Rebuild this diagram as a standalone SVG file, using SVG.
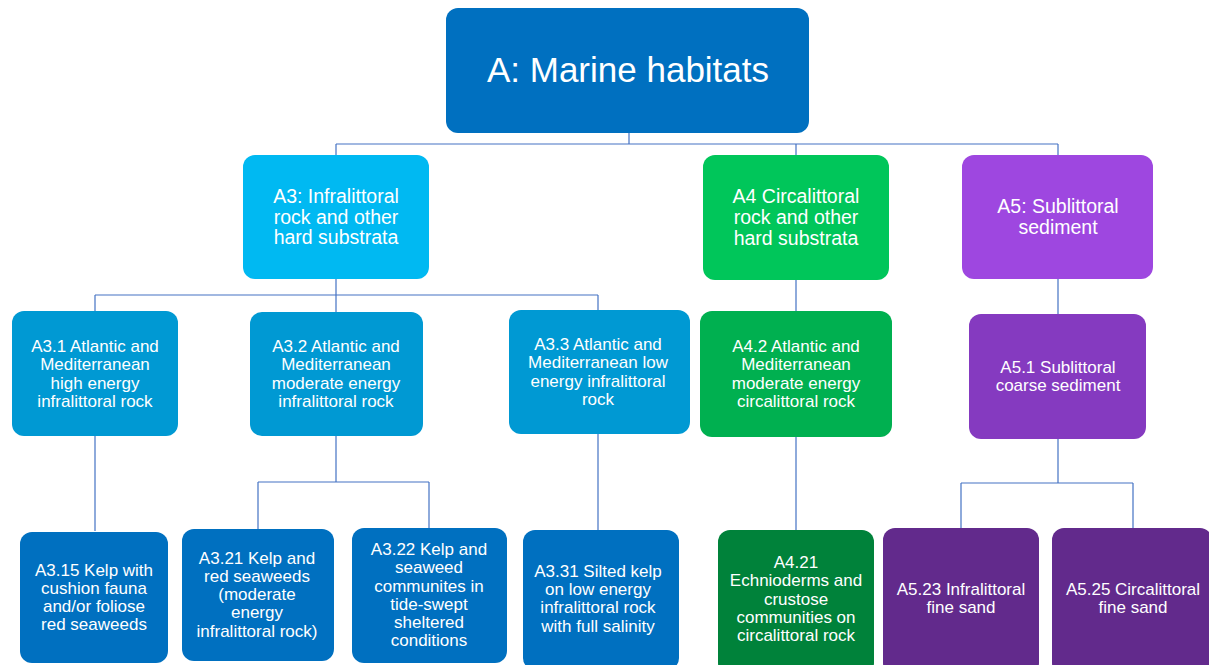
<svg xmlns="http://www.w3.org/2000/svg" width="1209" height="665" viewBox="0 0 1209 665">
<style>
text{font-family:"Liberation Sans",Arial,sans-serif;fill:#fff;text-anchor:middle}
.t1{font-size:19.5px}
.t2{font-size:17px}
.c{fill:none;stroke:#4472C4;stroke-width:1.2}
</style>
<rect width="1209" height="665" fill="#fff"/>
<g id="connectors">
<path class="c" d="M629 133V144M336 144H1058M336 144V155M796 144V155M1058 144V155"/>
<path class="c" d="M336 279V295M95 295H598M95 295V311M336 295V312M598 295V310"/>
<path class="c" d="M95 436V531M336 436V482M258 482H429M258 482V529M429 482V528M598 434V530"/>
<path class="c" d="M796 280V311M796 437V530M1058 279V314M1058 439V483M961 483H1133M961 483V528M1133 483V528"/>
</g>
<g id="A"><rect x="446" y="8" width="363" height="125" rx="12" fill="#0070C0"/><text x="628" y="82" style="font-size:35px">A: Marine habitats</text></g>
<g id="A3"><rect x="243" y="155" width="186" height="124" rx="12" fill="#00B9F2"/><text class="t1" x="336"><tspan x="336" y="203">A3: Infralittoral</tspan><tspan x="336" y="223.5">rock and other</tspan><tspan x="336" y="244">hard substrata</tspan></text></g>
<g id="A4"><rect x="703" y="155" width="186" height="125" rx="12" fill="#00C65A"/><text class="t1" x="796"><tspan x="796" y="203">A4 Circalittoral</tspan><tspan x="796" y="224">rock and other</tspan><tspan x="796" y="245">hard substrata</tspan></text></g>
<g id="A5"><rect x="962" y="155" width="191" height="124" rx="12" fill="#9E47E0"/><text class="t1" x="1058"><tspan x="1058" y="213">A5: Sublittoral</tspan><tspan x="1058" y="234">sediment</tspan></text></g>
<g id="A3.1"><rect x="12" y="311" width="166" height="125" rx="12" fill="#0099D3"/><text class="t2"><tspan x="95" y="352">A3.1 Atlantic and</tspan><tspan x="95" y="370">Mediterranean</tspan><tspan x="95" y="389">high energy</tspan><tspan x="95" y="407">infralittoral rock</tspan></text></g>
<g id="A3.2"><rect x="250" y="312" width="173" height="124" rx="12" fill="#0099D3"/><text class="t2"><tspan x="336" y="352">A3.2 Atlantic and</tspan><tspan x="336" y="370">Mediterranean</tspan><tspan x="336" y="389">moderate energy</tspan><tspan x="336" y="407">infralittoral rock</tspan></text></g>
<g id="A3.3"><rect x="509" y="310" width="181" height="124" rx="12" fill="#0099D3"/><text class="t2"><tspan x="598" y="350">A3.3 Atlantic and</tspan><tspan x="598" y="368">Mediterranean low</tspan><tspan x="598" y="387">energy infralittoral</tspan><tspan x="598" y="405">rock</tspan></text></g>
<g id="A4.2"><rect x="700" y="311" width="192" height="126" rx="12" fill="#00B050"/><text class="t2"><tspan x="796" y="352">A4.2 Atlantic and</tspan><tspan x="796" y="370">Mediterranean</tspan><tspan x="796" y="389">moderate energy</tspan><tspan x="796" y="407">circalittoral rock</tspan></text></g>
<g id="A5.1"><rect x="969" y="314" width="177" height="125" rx="12" fill="#853AC0"/><text class="t2"><tspan x="1058" y="373">A5.1 Sublittoral</tspan><tspan x="1058" y="391">coarse sediment</tspan></text></g>
<g id="A3.15"><rect x="20" y="532" width="148" height="131" rx="12" fill="#0070C0"/><text class="t2"><tspan x="94" y="576">A3.15 Kelp with</tspan><tspan x="94" y="594">cushion fauna</tspan><tspan x="94" y="612">and/or foliose</tspan><tspan x="94" y="630">red seaweeds</tspan></text></g>
<g id="A3.21"><rect x="182" y="529" width="152" height="132" rx="12" fill="#0070C0"/><text class="t2"><tspan x="257" y="564">A3.21 Kelp and</tspan><tspan x="257" y="582">red seaweeds</tspan><tspan x="257" y="600">(moderate</tspan><tspan x="257" y="618">energy</tspan><tspan x="257" y="637">infralittoral rock)</tspan></text></g>
<g id="A3.22"><rect x="352" y="528" width="155" height="135" rx="12" fill="#0070C0"/><text class="t2"><tspan x="429" y="555">A3.22 Kelp and</tspan><tspan x="429" y="573">seaweed</tspan><tspan x="429" y="592">communites in</tspan><tspan x="429" y="610">tide-swept</tspan><tspan x="429" y="628">sheltered</tspan><tspan x="429" y="646">conditions</tspan></text></g>
<g id="A3.31"><rect x="523" y="530" width="156" height="140" rx="12" fill="#0070C0"/><text class="t2"><tspan x="598" y="577">A3.31 Silted kelp</tspan><tspan x="598" y="595">on low energy</tspan><tspan x="598" y="613">infralittoral rock</tspan><tspan x="598" y="632">with full salinity</tspan></text></g>
<g id="A4.21"><rect x="718" y="530" width="156" height="145" rx="12" fill="#00823A"/><text class="t2"><tspan x="796" y="568">A4.21</tspan><tspan x="796" y="586">Echnioderms and</tspan><tspan x="796" y="605">crustose</tspan><tspan x="796" y="623">communities on</tspan><tspan x="796" y="641">circalittoral rock</tspan></text></g>
<g id="A5.23"><rect x="883" y="528" width="156" height="147" rx="12" fill="#622A8C"/><text class="t2"><tspan x="961" y="595">A5.23 Infralittoral</tspan><tspan x="961" y="613">fine sand</tspan></text></g>
<g id="A5.25"><rect x="1052" y="528" width="160" height="147" rx="12" fill="#622A8C"/><text class="t2"><tspan x="1133" y="595">A5.25 Circalittoral</tspan><tspan x="1133" y="613">fine sand</tspan></text></g>
</svg>
